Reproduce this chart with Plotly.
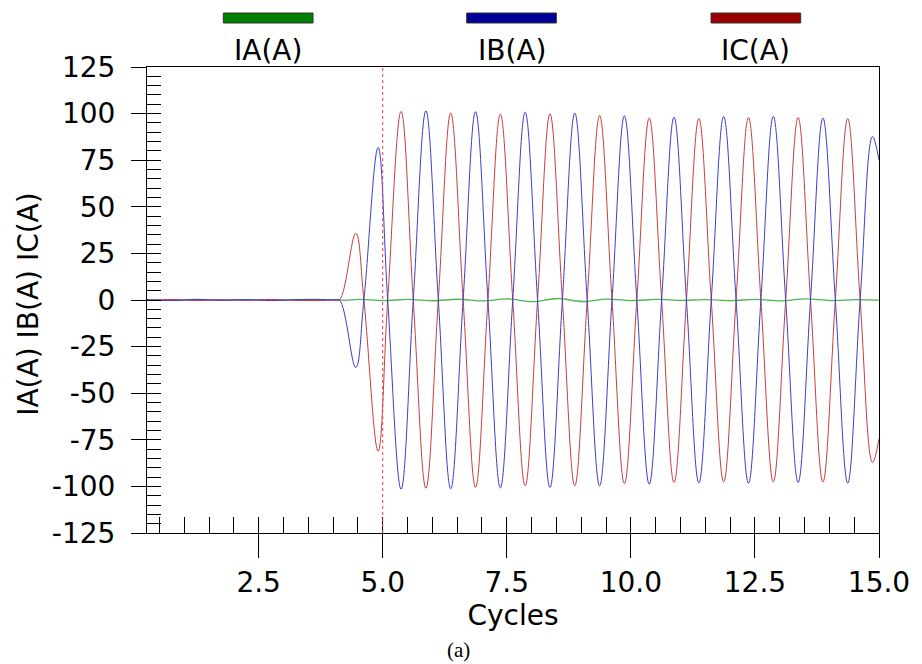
import plotly.graph_objects as go

# ---------------- data ----------------
# pre-fault samples (all three phases ~0 A)
t_pre = [0.25, 0.75, 1.25, 1.75, 2.25, 2.75, 3.25, 3.75, 4.0]
ib_pre = [0.2, -0.3, 0.3, -0.2, 0.2, -0.3, 0.2, 0.3, 0.0]
ic_pre = [-0.2, 0.3, -0.3, 0.2, -0.2, 0.3, -0.2, -0.3, 0.0]

# fault period: extrema and zero crossings of IB / IC (cycles, A)
t_fault = [4.126, 4.456, 4.62, 4.907, 5.10,
           5.37, 5.615, 5.87, 6.12, 6.37,
           6.62, 6.87, 7.12, 7.37, 7.62,
           7.87, 8.12, 8.37, 8.62, 8.87,
           9.12, 9.37, 9.62, 9.87, 10.12,
           10.37, 10.62, 10.87, 11.12, 11.37,
           11.62, 11.87, 12.12, 12.37, 12.62,
           12.87, 13.12, 13.37, 13.62, 13.87,
           14.12, 14.37, 14.62, 14.87, 15.0]
ib_fault = [0, -36.2, 0, 81.8, 0,
            -101.5, 0, 101.5, 0, -101.3,
            0, 101.0, 0, -100.8, 0,
            100.8, 0, -100.6, 0, 100.3,
            0, -99.7, 0, 98.8, 0,
            -98.8, 0, 98.1, 0, -98.1,
            0, 98.5, 0, -98.3, 0,
            98.5, 0, -97.9, 0, 97.6,
            0, -98.3, 0, 87.7, 75.0]
ic_fault = [0, 35.8, 0, -81.1, 0,
            101.2, 0, -101.0, 0, 100.3,
            0, -100.5, 0, 99.7, 0,
            -99.7, 0, 99.9, 0, -99.7,
            0, 99.0, 0, -98.5, 0,
            97.6, 0, -97.9, 0, 97.4,
            0, -97.6, 0, 97.9, 0,
            -97.6, 0, 97.9, 0, -97.6,
            0, 97.4, 0, -87.2, -74.3]

# IA stays close to zero
t_ia = [0.25, 0.75, 1.25, 1.75, 2.25, 2.75, 3.25, 3.75, 4.25, 4.52,
        5.02, 5.52, 6.02, 6.52, 7.02, 7.52, 8.02, 8.52, 9.02, 9.52,
        10.02, 10.52, 11.02, 11.52, 12.02, 12.52, 13.02, 13.52, 14.02,
        14.52, 15.0]
ia = [0.1, -0.2, 0.3, -0.1, 0.2, -0.2, 0.1, 0.2, -0.1, 0.3,
      -0.3, 0.3, -0.4, 0.4, -0.5, 0.6, -0.9, 0.8, -0.8, 0.5,
      -0.3, 0.3, -0.2, 0.2, -0.3, 0.3, -0.5, 0.6, -0.3,
      0.2, -0.1]

series_names = ["IA(A)", "IB(A)", "IC(A)"]
x_tickvals = [2.5, 5.0, 7.5, 10.0, 12.5, 15.0]
x_ticktext = ["2.5", "5.0", "7.5", "10.0", "12.5", "15.0"]
y_tickvals = [125, 100, 75, 50, 25, 0, -25, -50, -75, -100, -125]
y_ticktext = ["125", "100", "75", "50", "25", "0", "-25", "-50", "-75", "-100", "-125"]
x_minor = [0.5 * k for k in range(1, 31)]
y_minor = [5 * k for k in range(-25, 26)]
marker_x = 5.0

# ---------------- figure ----------------
FONT = "DejaVu Sans, Verdana, sans-serif"
FS = 28
line_cols = {"IA(A)": "rgb(80,180,80)", "IB(A)": "rgb(60,60,205)", "IC(A)": "rgb(205,60,60)"}
swatch_cols = {"IA(A)": "#008000", "IB(A)": "#000099", "IC(A)": "#9b0000"}

fig = go.Figure()
fig.add_trace(go.Scatter(x=t_ia, y=ia, mode="lines", name="IA(A)",
                         line=dict(color=line_cols["IA(A)"], width=1.3, shape="spline", smoothing=1.0),
                         showlegend=False))
fig.add_trace(go.Scatter(x=t_pre + t_fault, y=ic_pre + ic_fault, mode="lines", name="IC(A)",
                         line=dict(color=line_cols["IC(A)"], width=1, shape="spline", smoothing=1.1),
                         showlegend=False))
fig.add_trace(go.Scatter(x=t_pre + t_fault, y=ib_pre + ib_fault, mode="lines", name="IB(A)",
                         line=dict(color=line_cols["IB(A)"], width=1, shape="spline", smoothing=1.1),
                         showlegend=False))
# empty trace to carry the inner-tick overlay axes
fig.add_trace(go.Scatter(x=[], y=[], xaxis="x2", yaxis="y2", showlegend=False, hoverinfo="skip"))

L, R, T, B = 147, 32, 67, 131
W, H = 922, 664
pw, ph = W - L - R, H - T - B

def px2paper(px, py):
    return (px - L) / pw, (H - B - py) / ph

shapes = [dict(type="line", xref="x", yref="paper", x0=marker_x, x1=marker_x, y0=0, y1=1,
               line=dict(color="rgb(235,60,60)", width=1, dash="dot"))]
annotations = []
legend_centers = [270, 517, 765]
for name, cx in zip(series_names, legend_centers):
    x0, y0 = px2paper(cx - 45.5, 13)
    x1, y1 = px2paper(cx + 45.5, 23)
    shapes.append(dict(type="rect", xref="paper", yref="paper", x0=x0, x1=x1, y0=y1, y1=y0,
                       fillcolor=swatch_cols[name], line=dict(color="#333333", width=1)))
    ax, ay = px2paper(cx, 50)
    annotations.append(dict(text=name, xref="paper", yref="paper", x=ax, y=ay,
                            xanchor="center", yanchor="middle", showarrow=False,
                            font=dict(family=FONT, size=FS, color="black")))
# y-axis title
ax, ay = px2paper(26, 304)
annotations.append(dict(text="IA(A) IB(A) IC(A)", xref="paper", yref="paper", x=ax, y=ay,
                        xanchor="center", yanchor="middle", showarrow=False, textangle=-90,
                        font=dict(family=FONT, size=FS, color="black")))
# caption
ax, ay = px2paper(463, 650)
annotations.append(dict(text="(a)", xref="paper", yref="paper", x=ax, y=ay,
                        xanchor="center", yanchor="middle", showarrow=False,
                        font=dict(family="Liberation Serif, Times New Roman, serif", size=21, color="black")))

fig.update_layout(
    width=W, height=H,
    margin=dict(l=L, r=R, t=T, b=B, pad=0),
    paper_bgcolor="white", plot_bgcolor="white",
    font=dict(family=FONT, color="black"),
    showlegend=False,
    shapes=shapes, annotations=annotations,
    xaxis=dict(range=[0.25, 15], tickmode="array", tickvals=x_tickvals, ticktext=x_ticktext,
               ticks="outside", ticklen=24, tickwidth=1, tickcolor="black",
               showline=True, linecolor="black", linewidth=1, mirror=True,
               showgrid=False, zeroline=False,
               tickfont=dict(family=FONT, size=FS, color="black"),
               title=dict(text="Cycles", font=dict(family=FONT, size=FS, color="black"), standoff=0)),
    yaxis=dict(range=[-125, 125], tickmode="array", tickvals=y_tickvals, ticktext=y_ticktext,
               ticks="outside", ticklen=15, tickwidth=1, tickcolor="black",
               showline=True, linecolor="black", linewidth=1, mirror=True,
               showgrid=False, zeroline=False, ticklabelstandoff=10,
               tickfont=dict(family=FONT, size=FS, color="black")),
    xaxis2=dict(range=[0.25, 15], overlaying="x", anchor="y2", side="bottom",
                tickmode="array", tickvals=x_minor, ticks="inside", ticklen=16, tickwidth=1,
                tickcolor="black", showticklabels=False, showline=False, showgrid=False, zeroline=False),
    yaxis2=dict(range=[-125, 125], overlaying="y", anchor="x2", side="left",
                tickmode="array", tickvals=y_minor, ticks="inside", ticklen=14, tickwidth=1,
                tickcolor="black", showticklabels=False, showline=False, showgrid=False, zeroline=False),
)

fig.write_html("out.html")
